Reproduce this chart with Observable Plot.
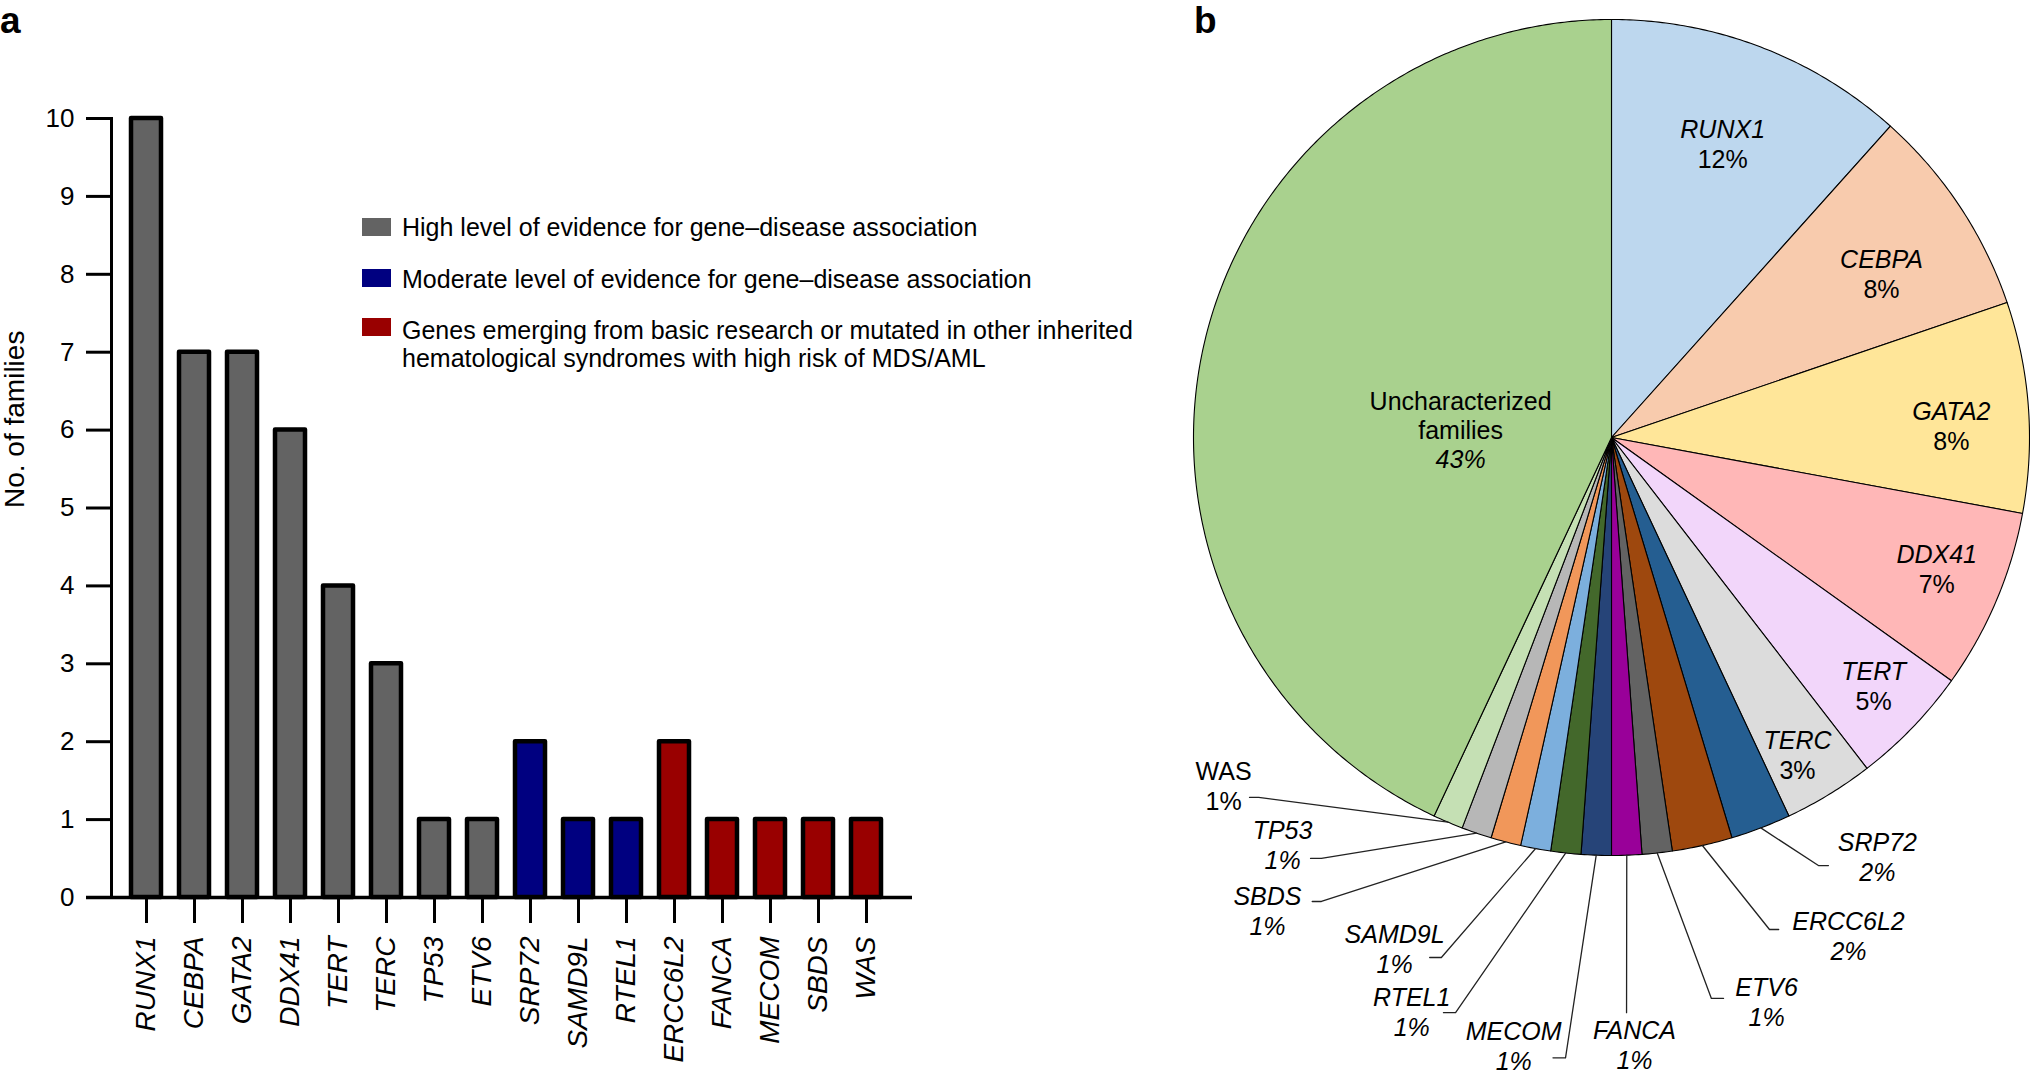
<!DOCTYPE html>
<html>
<head>
<meta charset="utf-8">
<script src="https://cdn.jsdelivr.net/npm/d3@7"></script>
<script src="https://cdn.jsdelivr.net/npm/@observablehq/plot@0.6"></script>
<style>
html, body { margin: 0; padding: 0; background: #fff; }
#root { position: relative; width: 2030px; height: 1076px; overflow: hidden;
  font-family: "Liberation Sans", Arial, Helvetica, sans-serif; color: #000; }
.panel { position: absolute; top: 1px; font-weight: bold; font-size: 37px; line-height: 40px; }
#bar { position: absolute; left: 0; top: 0; }
#pie { position: absolute; left: 1180px; top: 0; }
.leg-sw { position: absolute; width: 29px; height: 18px; }
.leg-tx { position: absolute; font-size: 25px; line-height: 28px; white-space: nowrap; }
#bar g[aria-label="x-axis tick label"] { font-style: italic; font-size: 28px; }
</style>
</head>
<body>
<div id="root">
  <div id="bar"></div>
  <div id="pie"></div>
  <div id="legend"></div>
  <div class="panel" style="left:0px;">a</div>
  <div class="panel" style="left:1194px;">b</div>
</div>
<script>
// ---------- data: panel a ----------
const genes = ["RUNX1","CEBPA","GATA2","DDX41","TERT","TERC","TP53","ETV6","SRP72","SAMD9L","RTEL1","ERCC6L2","FANCA","MECOM","SBDS","WAS"];
const counts = [10, 7, 7, 6, 4, 3, 1, 1, 2, 1, 1, 2, 1, 1, 1, 1];
const evidence = ["high","high","high","high","high","high","high","high","moderate","moderate","moderate","emerging","emerging","emerging","emerging","emerging"];
const categories = ["high", "moderate", "emerging"];
const categoryLabels = [
  "High level of evidence for gene\u2013disease association",
  "Moderate level of evidence for gene\u2013disease association",
  "Genes emerging from basic research or mutated in other inherited\nhematological syndromes with high risk of MDS/AML"
];
const categoryColors = ["#636363", "#000080", "#990000"];
const yTicks = [0,1,2,3,4,5,6,7,8,9,10];

// ---------- data: panel b ----------
const pieNames = ["RUNX1","CEBPA","GATA2","DDX41","TERT","TERC","SRP72","ERCC6L2","ETV6","FANCA","MECOM","RTEL1","SAMD9L","SBDS","TP53","WAS","Uncharacterized families"];
const uncharacterizedCount = 37;
const pieColors = ["#bdd7ee","#f8cbad","#ffe699","#ffb7b7","#f2d6fa","#dcdcdc","#255e91","#9e480e","#636363","#990099","#264478","#43682b","#7cafdd","#f1975a","#b7b7b7","#c5e0b4","#a9d18e"];

// label placement (annotation positions, in units of the pie radius; y up)
const labelX = [0.266, 0.646, 0.813, 0.778, 0.627, 0.445, 0.636, 0.567, 0.371, 0.055, -0.234, -0.478, -0.519, -0.823, -0.787, -0.928, -0.361];
const labelY = [0.699, 0.388, 0.026, -0.316, -0.598, -0.761, -1.007, -1.194, -1.352, -1.455, -1.458, -1.376, -1.227, -1.134, -0.978, -0.835, 0.017];
// leader lines for the outside labels: elbow point and short horizontal tail
const elbowX = [null, null, null, null, null, null, 0.495, 0.378, 0.239, 0.036, -0.110, -0.373, -0.407, -0.694, -0.694, -0.844, null];
const elbowY = [null, null, null, null, null, null, -1.024, -1.177, -1.342, -1.376, -1.484, -1.376, -1.244, -1.110, -1.007, -0.861, null];
const tailLen = [0, 0, 0, 0, 0, 0, 0.024, 0.022, 0.029, 0, -0.030, -0.029, -0.028, -0.022, -0.026, -0.022, 0];

// ---------- panel a: bar chart ----------
const barRows = genes.map((g, i) => ({gene: g, n: counts[i], cat: evidence[i]}));

const bar = Plot.plot({
  width: 1000,
  height: 1076,
  marginLeft: 111,
  marginRight: 99,
  marginTop: 118,
  marginBottom: 179,
  style: {fontFamily: '"Liberation Sans", Arial, Helvetica, sans-serif', fontSize: "26px", background: "transparent", color: "#000"},
  x: {domain: genes, paddingInner: 0.38, paddingOuter: 0.355, label: null},
  y: {domain: [0, 10], label: null},
  color: {domain: categories, range: categoryColors},
  marks: [
    Plot.barY(barRows, {x: "gene", y: "n", fill: "cat", stroke: "#000", strokeWidth: 4.5, strokeLinejoin: "round"}),
    Plot.ruleY([0], {stroke: "#000", strokeWidth: 3.5, insetLeft: -25, insetRight: -11}),
    Plot.frame({anchor: "left", stroke: "#000", strokeWidth: 3}),
    Plot.axisY({ticks: yTicks, tickSize: 25, tickPadding: 12, strokeWidth: 3, label: null}),
    Plot.axisX({tickSize: 26, tickPadding: 13, tickRotate: -90, strokeWidth: 3, label: null}),
    Plot.text(["No. of families"], {text: d => d, frameAnchor: "left", dx: -96, rotate: -90, fontSize: 28})
  ]
});
document.getElementById("bar").appendChild(bar);

// legend (HTML, over panel a)
const legend = document.getElementById("legend");
const legTops = [218, 269, 318];
const legTextTops = [213, 265, 316];
categories.forEach((c, i) => {
  const sw = document.createElement("div");
  sw.className = "leg-sw";
  sw.style.left = "362px";
  sw.style.top = legTops[i] + "px";
  sw.style.background = categoryColors[i];
  legend.appendChild(sw);
  const tx = document.createElement("div");
  tx.className = "leg-tx";
  tx.style.left = "402px";
  tx.style.top = legTextTops[i] + "px";
  tx.innerHTML = categoryLabels[i].split("\n").join("<br>");
  legend.appendChild(tx);
});

// ---------- panel b: pie chart ----------
const pieCounts = pieNames.map(n => n === "Uncharacterized families" ? uncharacterizedCount : counts[genes.indexOf(n)]);
const total = d3.sum(pieCounts);
const arcs = d3.pie().sort(null).value(d => d)(pieCounts);

const slicePts = [];
arcs.forEach((a, i) => {
  const name = pieNames[i];
  const steps = Math.max(2, Math.ceil((a.endAngle - a.startAngle) / (Math.PI / 360)));
  slicePts.push({name, x: 0, y: 0});
  for (let k = 0; k <= steps; k++) {
    const t = a.startAngle + (a.endAngle - a.startAngle) * k / steps;
    slicePts.push({name, x: Math.sin(t), y: Math.cos(t)});
  }
  slicePts.push({name, x: 0, y: 0});
});

const labels = pieNames.map((name, i) => {
  const mid = (arcs[i].startAngle + arcs[i].endAngle) / 2;
  const isGene = name !== "Uncharacterized families";
  const outside = elbowX[i] !== null;
  return {
    name, i, mid,
    pct: Math.round(pieCounts[i] / total * 100) + "%",
    x: labelX[i], y: labelY[i],
    isGene, outside,
    nameItalic: isGene && name !== "WAS",
    pctItalic: (outside && name !== "WAS") || !isGene
  };
});

const leaderPts = [];
labels.filter(d => d.outside).forEach(d => {
  const i = d.i;
  leaderPts.push({name: d.name, x: Math.sin(d.mid), y: Math.cos(d.mid)});
  leaderPts.push({name: d.name, x: elbowX[i], y: elbowY[i]});
  leaderPts.push({name: d.name, x: elbowX[i] + tailLen[i], y: elbowY[i]});
});

const PW = 850, PH = 1076, R = 418, CX = 431, CY = 437;
const pie = Plot.plot({
  width: PW,
  height: PH,
  margin: 0,
  style: {fontFamily: '"Liberation Sans", Arial, Helvetica, sans-serif', fontSize: "25px", background: "transparent", color: "#000"},
  x: {domain: [-CX / R, (PW - CX) / R], axis: null},
  y: {domain: [-(PH - CY) / R, CY / R], axis: null},
  color: {domain: pieNames, range: pieColors},
  marks: [
    Plot.line(slicePts, {x: "x", y: "y", z: "name", fill: "name", stroke: "#000", strokeWidth: 1.1, strokeLinejoin: "round"}),
    Plot.line(leaderPts, {x: "x", y: "y", z: "name", stroke: "#222", strokeWidth: 1.3}),
    // gene names
    Plot.text(labels.filter(d => d.isGene && d.nameItalic), {x: "x", y: "y", text: "name", dy: -15, fontStyle: "italic"}),
    Plot.text(labels.filter(d => d.isGene && !d.nameItalic), {x: "x", y: "y", text: "name", dy: -15}),
    Plot.text(labels.filter(d => d.isGene && d.pctItalic), {x: "x", y: "y", text: "pct", dy: 15, fontStyle: "italic"}),
    Plot.text(labels.filter(d => d.isGene && !d.pctItalic), {x: "x", y: "y", text: "pct", dy: 15}),
    // uncharacterized
    Plot.text(labels.filter(d => !d.isGene), {x: "x", y: "y", text: d => "Uncharacterized\nfamilies", dy: -15, lineHeight: 1.16}),
    Plot.text(labels.filter(d => !d.isGene), {x: "x", y: "y", text: "pct", dy: 30, fontStyle: "italic"})
  ]
});
document.getElementById("pie").appendChild(pie);
</script>
</body>
</html>
